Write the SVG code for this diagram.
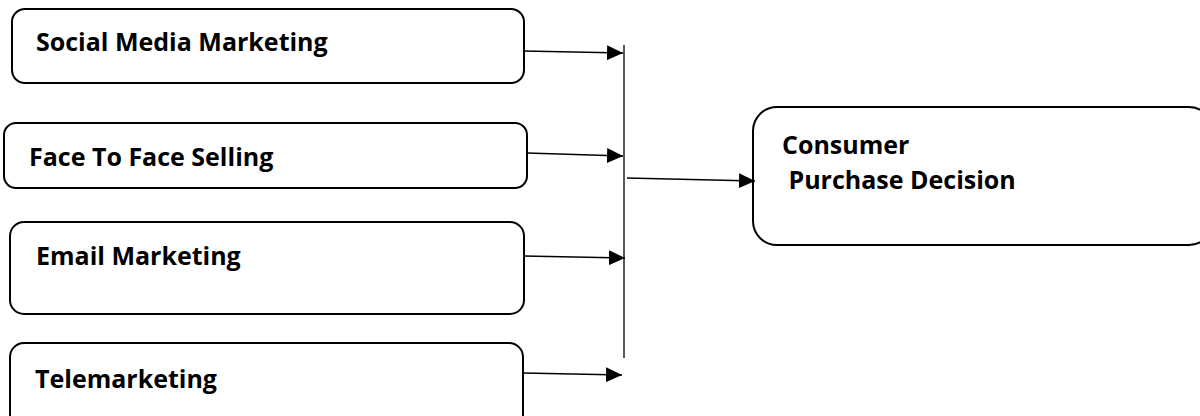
<svg xmlns="http://www.w3.org/2000/svg" width="1200" height="416" viewBox="0 0 1200 416">
<defs>
<style>
.box{fill:#fff;stroke:#000;stroke-width:2}
.lbl{font-family:"Open Sans","Liberation Sans",sans-serif;font-weight:bold;font-size:25px;fill:#000}
.con{stroke:#000;stroke-width:1.3;fill:none}
</style>
<marker id="ah" viewBox="0 0 16 15" refX="16" refY="7.5" markerWidth="16" markerHeight="15" markerUnits="userSpaceOnUse" orient="auto">
<path d="M0,0 L16,7.5 L0,15 Z" fill="#000"/>
</marker>
</defs>
<g id="n1"><rect class="box" x="12" y="9" width="512" height="74" rx="13"/><text class="lbl" x="36" y="51">Social Media Marketing</text></g>
<g id="n2"><rect class="box" x="4" y="123" width="523" height="65" rx="12"/><text class="lbl" x="29" y="166">Face To Face Selling</text></g>
<g id="n3"><rect class="box" x="10" y="222" width="514" height="92" rx="14"/><text class="lbl" x="36" y="265">Email Marketing</text></g>
<g id="n4"><rect class="box" x="10" y="343" width="513" height="90" rx="14"/><text class="lbl" x="35" y="388">Telemarketing</text></g>
<g id="n5"><rect class="box" x="753" y="107" width="460" height="138" rx="24"/><text class="lbl" x="782" y="154">Consumer</text><text class="lbl" x="782" y="189" xml:space="preserve"> Purchase Decision</text></g>
<g id="connectors">
<line class="con" x1="624" y1="45" x2="624" y2="358"/>
<line class="con" x1="524" y1="51" x2="623" y2="53" marker-end="url(#ah)"/>
<line class="con" x1="527" y1="153" x2="623" y2="156" marker-end="url(#ah)"/>
<line class="con" x1="524" y1="256" x2="625" y2="258" marker-end="url(#ah)"/>
<line class="con" x1="523" y1="373" x2="622" y2="375" marker-end="url(#ah)"/>
<line class="con" x1="627" y1="178" x2="755" y2="181" marker-end="url(#ah)"/>
</g>
</svg>
